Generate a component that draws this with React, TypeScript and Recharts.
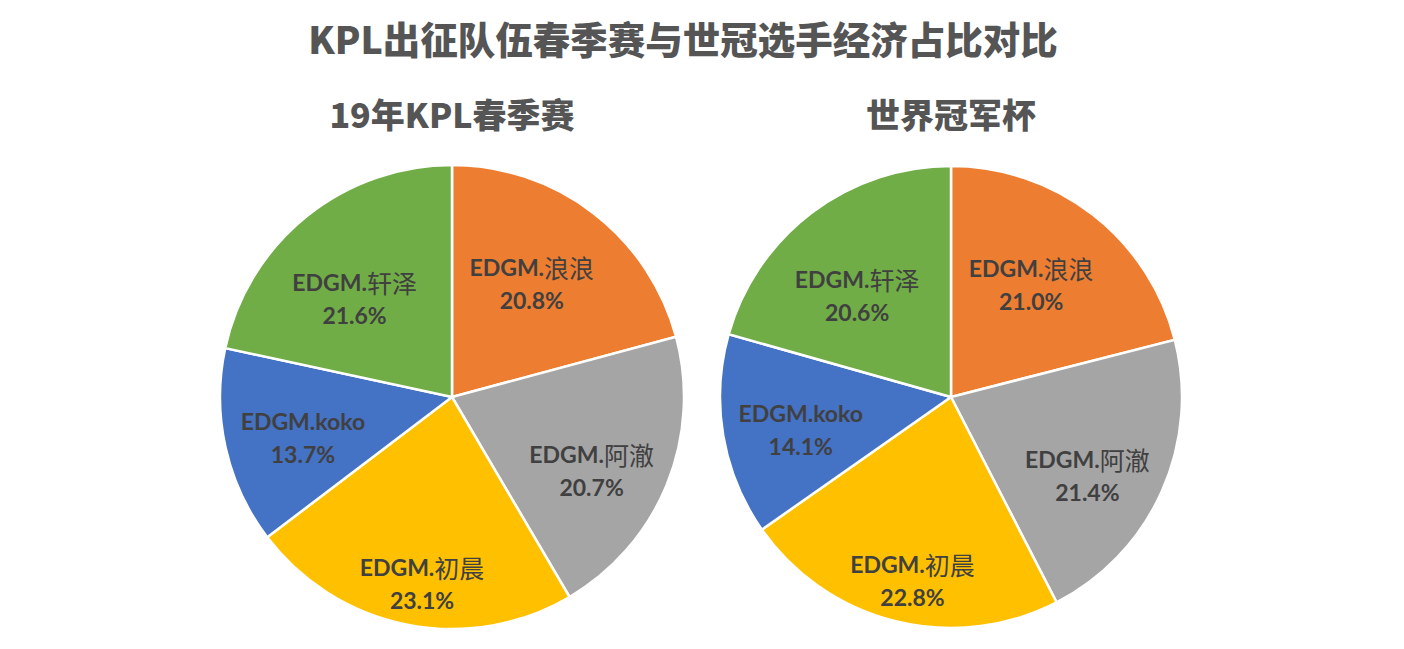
import React from 'react';
import { PieChart, Pie, Cell } from 'recharts';

const players = ['EDGM.浪浪', 'EDGM.阿澈', 'EDGM.初晨', 'EDGM.koko', 'EDGM.轩泽'];
const springValues = [20.8, 20.7, 23.1, 13.7, 21.6];
const worldValues = [21.0, 21.4, 22.8, 14.1, 20.6];
const mainTitle = 'KPL出征队伍春季赛与世冠选手经济占比对比';
const springTitle = '19年KPL春季赛';
const worldTitle = '世界冠军杯';

const COLORS = ['#ED7D31', '#A5A5A5', '#FFC000', '#4472C4', '#70AD47'];
const LABEL_FACTORS = [0.6, 0.68, 0.81, 0.665, 0.6];
const LABEL_ANGLE_SHIFT = [-2.5, 5.5, -2, -2.4, -5.5];
const RADIAN = Math.PI / 180;

const springData = players.map((name, i) => ({ name, value: springValues[i] }));
const worldData = players.map((name, i) => ({ name, value: worldValues[i] }));

const LATIN = "Lato, 'Noto Sans CJK SC', sans-serif";
const CJK = "'Noto Sans CJK SC', sans-serif";

const renderName = (name: string) => {
  const m = name.match(/^([\x00-\x7F]*)(.*)$/);
  const latin = m ? m[1] : name;
  const rest = m ? m[2] : '';
  return (
    <>
      <tspan fontFamily={LATIN} fontWeight={700}>{latin}</tspan>
      {rest ? (
        <tspan fontFamily={CJK} fontWeight={400} fontSize={25}>{rest}</tspan>
      ) : null}
    </>
  );
};

const renderLabel = (props: any) => {
  const { cx, cy, midAngle, outerRadius, index, name, value } = props;
  const r = outerRadius * LABEL_FACTORS[index];
  const ang = midAngle - LABEL_ANGLE_SHIFT[index];
  const x = cx + r * Math.cos(-ang * RADIAN);
  const y = cy + r * Math.sin(-ang * RADIAN);
  return (
    <g>
      <text
        x={x}
        y={y - 16}
        textAnchor="middle"
        dominantBaseline="central"
        fill="#404040"
        fontSize={23}
        fontWeight={700}
        fontFamily={LATIN}
      >
        {renderName(name)}
      </text>
      <text
        x={x}
        y={y + 17}
        textAnchor="middle"
        dominantBaseline="central"
        fill="#404040"
        fontSize={23}
        fontWeight={700}
        fontFamily={LATIN}
      >
        {value.toFixed(1) + '%'}
      </text>
    </g>
  );
};

const titleStyle: React.CSSProperties = {
  position: 'absolute',
  color: '#555555',
  fontFamily: "'Noto Sans CJK SC', sans-serif",
  fontWeight: 900,
  whiteSpace: 'nowrap',
  transform: 'translate(-50%, -50%)',
  lineHeight: 1,
};

export default function App() {
  return (
    <div style={{ position: 'absolute', left: 0, top: 0, width: 1404, height: 649, background: '#ffffff', overflow: 'hidden' }}>
      <PieChart width={1404} height={649} margin={{ top: 0, right: 0, bottom: 0, left: 0 }}>
        <Pie
          data={springData}
          dataKey="value"
          nameKey="name"
          cx={452}
          cy={397}
          outerRadius={232}
          startAngle={90}
          endAngle={-270}
          stroke="#ffffff"
          strokeWidth={2.5}
          label={renderLabel}
          labelLine={false}
          isAnimationActive={false}
        >
          {springData.map((d, i) => (
            <Cell key={d.name} fill={COLORS[i]} />
          ))}
        </Pie>
        <Pie
          data={worldData}
          dataKey="value"
          nameKey="name"
          cx={951}
          cy={397}
          outerRadius={231}
          startAngle={90}
          endAngle={-270}
          stroke="#ffffff"
          strokeWidth={2.5}
          label={renderLabel}
          labelLine={false}
          isAnimationActive={false}
        >
          {worldData.map((d, i) => (
            <Cell key={d.name} fill={COLORS[i]} />
          ))}
        </Pie>
      </PieChart>
      <div style={{ ...titleStyle, left: 683, top: 38, fontSize: 37.5 }}>{mainTitle}</div>
      <div style={{ ...titleStyle, left: 452, top: 114, fontSize: 34 }}>{springTitle}</div>
      <div style={{ ...titleStyle, left: 951, top: 114, fontSize: 34 }}>{worldTitle}</div>
    </div>
  );
}
